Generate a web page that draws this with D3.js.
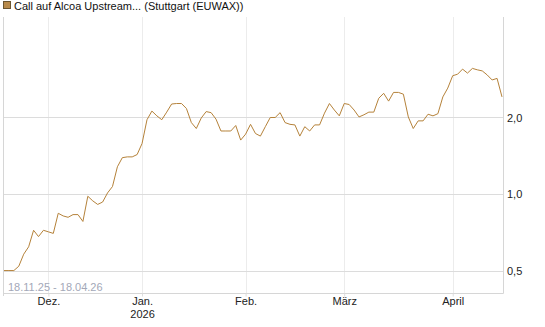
<!DOCTYPE html>
<html lang="de">
	<head>
		<meta charset="utf-8">
		<title>Call auf Alcoa Upstream</title>
		<script src="https://d3js.org/d3.v7.min.js"></script>
		<style>
			body { margin: 0; background: #fff; }
			svg { display: block; font-family: "Liberation Sans", Arial, sans-serif; }
			.Axis path { display: none; }
			.Axis text { font-size: 11px; fill: #222; }
			.x.Axis line { stroke: #ddd; }
		</style>
	</head>
	<body>
		<div id="chart"></div>
		<script>
			const w = 545, h = 327;

			// title and date range
			const title = "Call auf Alcoa Upstream... (Stuttgart (EUWAX))";
			const rangeLabel = "18.11.25 - 18.04.26";

			// one value per trading day, 18.11.25 .. 17.04.26
			const prices = [
				0.50, 0.50, 0.50, 0.52, 0.58, 0.62, 0.72, 0.68, 0.72, 0.71,
				0.70, 0.84, 0.82, 0.81, 0.83, 0.83, 0.78, 0.98, 0.94, 0.91,
				0.93, 1.01, 1.07, 1.28, 1.39, 1.40, 1.40, 1.43, 1.58, 1.96,
				2.12, 2.03, 1.96, 2.10, 2.26, 2.27, 2.27, 2.17, 1.91, 1.81,
				1.99, 2.11, 2.09, 1.97, 1.77, 1.77, 1.77, 1.86, 1.63, 1.72,
				1.88, 1.73, 1.69, 1.84, 2.00, 2.00, 2.09, 1.91, 1.88, 1.87,
				1.69, 1.84, 1.77, 1.87, 1.87, 2.08, 2.27, 2.14, 2.03, 2.27,
				2.25, 2.14, 2.01, 2.05, 2.10, 2.10, 2.38, 2.49, 2.32, 2.51,
				2.51, 2.47, 2.01, 1.81, 1.94, 1.94, 2.06, 2.03, 2.07, 2.41,
				2.61, 2.92, 2.96, 3.10, 2.99, 3.12, 3.08, 3.05, 2.94, 2.81,
				2.85, 2.41
			];

			// first trading day of each month (index into prices)
			const monthIdx    = [9, 28, 49, 69, 91];
			const monthLabels = ["Dez.", "Jan.", "Feb.", "März", "April"];
			const yearLabels  = ["", "2026", "", "", ""];

			const yTicks = [0.5, 1, 2];

			const pLeft = 3, pRight = 503, pTop = 17, pBottom = 293;

			const xScale = d3.scaleLinear()
				.domain([0, prices.length - 1])
				.range([4, 502]);

			const yScale = d3.scaleLog()
				.domain([0.408, 4.97])
				.range([pBottom, pTop]);

			const svg = d3.select("#chart").append("svg")
				.attr("width", w)
				.attr("height", h);

			// vertical grid
			svg.append("g")
				.selectAll("line")
				.data(monthIdx)
				.enter().append("line")
				.attr("x1", d => Math.round(xScale(d)) + 0.5)
				.attr("x2", d => Math.round(xScale(d)) + 0.5)
				.attr("y1", pTop)
				.attr("y2", pBottom)
				.attr("stroke", "#ececec");

			// horizontal grid
			svg.append("g")
				.selectAll("line")
				.data(yTicks)
				.enter().append("line")
				.attr("x1", pLeft)
				.attr("x2", pRight)
				.attr("y1", d => Math.round(yScale(d)) + 0.5)
				.attr("y2", d => Math.round(yScale(d)) + 0.5)
				.attr("stroke", "#dcdcdc");

			// frame: left, bottom, right
			svg.append("path")
				.attr("d", "M" + (pLeft + 0.5) + "," + pTop + "V" + (pBottom + 3) +
					"M" + pLeft + "," + (pBottom + 0.5) + "H" + (pRight + 0.5) +
					"M" + (pRight + 0.5) + "," + pTop + "V" + (pBottom + 0.5))
				.attr("fill", "none")
				.attr("stroke", "#d6d6d6");

			// date range
			svg.append("text")
				.attr("x", 8)
				.attr("y", 291)
				.attr("font-size", "11px")
				.attr("fill", "#a3a8b8")
				.text(rangeLabel);

			// x axis
			const xAxis = d3.axisBottom(xScale)
				.tickValues(monthIdx)
				.tickSize(3)
				.tickPadding(1)
				.tickFormat("");

			const gx = svg.append("g")
				.attr("class", "Axis x")
				.attr("transform", "translate(0," + (pBottom + 0.5) + ")")
				.call(xAxis);

			gx.selectAll(".tick text")
				.each(function(d, i) {
					const t = d3.select(this);
					t.append("tspan").attr("x", 0).attr("dy", "0.71em").text(monthLabels[i]);
					if (yearLabels[i]) {
						t.append("tspan").attr("x", 0).attr("dy", "1.15em").text(yearLabels[i]);
					}
				})
				.attr("dy", null);

			// y axis on the right
			const yAxis = d3.axisRight(yScale)
				.tickValues(yTicks)
				.tickSize(0)
				.tickPadding(4)
				.tickFormat(d => d3.format(".1f")(d).replace(".", ","));

			svg.append("g")
				.attr("class", "Axis y")
				.attr("transform", "translate(" + pRight + ",0)")
				.call(yAxis);

			// price line
			const line = d3.line()
				.x((d, i) => xScale(i))
				.y(d => yScale(d));

			svg.append("path")
				.datum(prices)
				.attr("d", line)
				.attr("fill", "none")
				.attr("stroke", "#b5823a")
				.attr("stroke-width", 1);

			// legend
			svg.append("rect")
				.attr("x", 3.5)
				.attr("y", 1.5)
				.attr("width", 7)
				.attr("height", 7)
				.attr("fill", "#b88a4b")
				.attr("stroke", "#6b5530");

			svg.append("text")
				.attr("x", 14)
				.attr("y", 9.5)
				.attr("font-size", "11px")
				.attr("fill", "#111")
				.text(title);
		</script>
	</body>
</html>
